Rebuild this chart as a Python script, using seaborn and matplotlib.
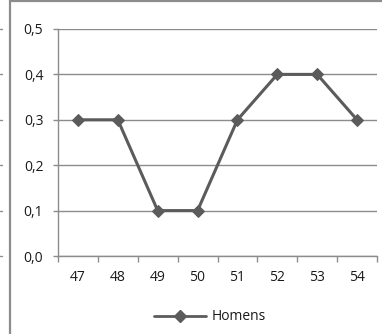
import matplotlib
matplotlib.use("Agg")
import matplotlib.pyplot as plt
import matplotlib.ticker as mticker
import matplotlib.transforms as mtransforms
from matplotlib.lines import Line2D
import seaborn as sns
import pandas as pd

# Ages and the share for men at each age
ages = [47, 48, 49, 50, 51, 52, 53, 54]
homens = [0.3, 0.3, 0.1, 0.1, 0.3, 0.4, 0.4, 0.3]
y_ticks = [0.0, 0.1, 0.2, 0.3, 0.4, 0.5]
series_name = "Homens"

sns.set_theme(style="white")
plt.rcParams["font.family"] = ["Open Sans", "DejaVu Sans"]

W, H = 382, 334
fig = plt.figure(figsize=(W / 100, H / 100), dpi=100)
ax = fig.add_axes([58 / W, 78 / H, (377 - 58) / W, (305 - 78) / H])

line_col = "#5b5b5b"
grid_col = "#8c8c8c"
text_col = "#1a1a1a"
fs = 10

df = pd.DataFrame({"idade": ages, "valor": homens})
sns.lineplot(data=df, x="idade", y="valor", ax=ax, color=line_col,
             linewidth=2.2, marker="D", markersize=6, markeredgecolor=line_col,
             markerfacecolor=line_col, legend=False)

ax.set_xlim(ages[0] - 0.5, ages[-1] + 0.5)
ax.set_ylim(y_ticks[0], y_ticks[-1])
ax.set_xlabel("")
ax.set_ylabel("")

# category boundaries carry the tick marks, centres carry the labels
ax.xaxis.set_major_locator(mticker.FixedLocator([a - 0.5 for a in ages] + [ages[-1] + 0.5]))
ax.xaxis.set_major_formatter(mticker.NullFormatter())
ax.xaxis.set_minor_locator(mticker.FixedLocator(ages))
ax.xaxis.set_minor_formatter(mticker.FixedFormatter([str(a) for a in ages]))
ax.tick_params(axis="x", which="major", length=4.5, width=1, color=grid_col, direction="out", bottom=True)
ax.tick_params(axis="x", which="minor", length=0, pad=10, labelsize=fs, labelcolor=text_col)

ax.set_yticks(y_ticks)
ax.yaxis.set_major_formatter(mticker.FuncFormatter(lambda v, p: f"{v:.1f}".replace(".", ",")))
ax.tick_params(axis="y", length=3.6, width=1, color=grid_col, direction="out", left=True,
               pad=7, labelsize=fs, labelcolor=text_col)

ax.grid(axis="y", color=grid_col, linewidth=1)
ax.set_axisbelow(True)
for side in ["top", "right"]:
    ax.spines[side].set_visible(False)
for side in ["left", "bottom"]:
    ax.spines[side].set_color(grid_col)
    ax.spines[side].set_linewidth(1)

# legend under the plot
handle = Line2D([0], [0], color=line_col, linewidth=2, marker="D", markersize=6)
fig.legend([handle], [series_name], loc="center", bbox_to_anchor=(210 / W, 1 - 317 / H),
           frameon=False, handlelength=3.7, handletextpad=0.4, fontsize=fs,
           labelcolor=text_col)

# chart frame edges
fig.add_artist(Line2D([9.5 / W, 9.5 / W], [0, 1], transform=fig.transFigure,
                      color=grid_col, linewidth=1.6))
fig.add_artist(Line2D([9.5 / W, 1], [1 - 0.8 / H, 1 - 0.8 / H], transform=fig.transFigure,
                      color=grid_col, linewidth=1.6))
# stubs of the neighbouring frame's ticks at the far left
blend = mtransforms.blended_transform_factory(fig.transFigure, ax.transData)
for v in y_ticks:
    fig.add_artist(Line2D([0, 2 / W], [v, v], transform=blend, color=grid_col, linewidth=1))

fig.savefig("out.png", dpi=100)
